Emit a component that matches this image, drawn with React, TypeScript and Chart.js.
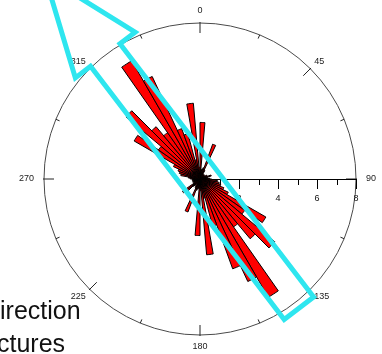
import React, { useEffect, useRef } from "react";
import { Chart, registerables } from "chart.js";

Chart.register(...registerables);

// ---- data -------------------------------------------------------------
const BIN_WIDTH_DEG = 5;
// petal lengths for the 5° bins from 0° to 180° (0–5, 5–10, …, 175–180)
const petalsEastHalf = [
  2.9, 0.5, 0.4, 0.6, 1.9, 0.5, 0.3, 0.2, 0.3, 0.2, 0.3, 0.2,
  0.4, 0.3, 0.6, 0.4, 0.3, 0.5, 0.6, 0.9, 1.0, 1.1, 1.3, 1.6,
  3.9, 2.8, 5.0, 4.0, 3.0, 7.0, 5.8, 4.9, 2.5, 1.0, 3.9, 0.6,
];
// petal lengths for the 5° bins from 180° to 360°
const petalsWestHalf = [
  2.9, 0.5, 0.4, 0.6, 1.8, 0.5, 0.3, 0.4, 0.5, 1.0, 1.1, 0.4,
  0.3, 0.4, 0.3, 0.4, 0.3, 0.4, 0.5, 0.6, 1.0, 1.1, 1.2, 1.5,
  3.9, 2.6, 4.95, 3.5, 2.9, 7.0, 5.8, 2.75, 2.4, 1.0, 3.9, 0.6,
];
const radialMax = 8;
const radialMinorTicks = [1, 2, 3, 4, 5, 6, 7, 8];
const radialTickLabels = [2, 4, 6, 8];
const compassLabels = ["0", "45", "90", "135", "180", "225", "270", "315"];
const compassTickStepDeg = 22.5;
const captionLines = ["irection", "ctures"];

// annotation arrow (in radial units, along the mean direction)
const arrowAxisDeg = 322.6;
const arrowTip = 13.1;
const arrowHeadBase = 8.0;
const arrowHeadHalfWidth = 1.93;
const arrowShaftHalfWidth = 0.95;
const arrowTail = 8.35;

const binLabels = [...petalsEastHalf, ...petalsWestHalf].map(
  (_, i) => `${i * BIN_WIDTH_DEG}–${(i + 1) * BIN_WIDTH_DEG}°`
);

const FONT = '"Liberation Sans", Arial, Helvetica, sans-serif';

const dir = (deg: number) => {
  const a = (deg * Math.PI) / 180;
  return { x: Math.sin(a), y: -Math.cos(a) };
};

const roseDecor = {
  id: "roseDecor",
  beforeDatasetsDraw(chart: any) {
    const s = chart.scales.r;
    const ctx = chart.ctx as CanvasRenderingContext2D;
    const cx = s.xCenter;
    const cy = s.yCenter;
    const R = s.getDistanceFromCenterForValue(radialMax);
    ctx.save();
    // outer circle
    ctx.strokeStyle = "#4a4a4a";
    ctx.lineWidth = 1;
    ctx.beginPath();
    ctx.arc(cx, cy, R, 0, Math.PI * 2);
    ctx.stroke();
    // compass ticks
    ctx.strokeStyle = "#222";
    const nTicks = Math.round(360 / compassTickStepDeg);
    for (let k = 0; k < nTicks; k++) {
      const deg = k * compassTickStepDeg;
      const major = k % 2 === 0;
      const d = dir(deg);
      const outer = major ? R + 1 : R;
      const inner = major ? R - 10 : R - 4;
      ctx.beginPath();
      ctx.moveTo(cx + d.x * outer, cy + d.y * outer);
      ctx.lineTo(cx + d.x * inner, cy + d.y * inner);
      ctx.stroke();
    }
    // compass labels
    ctx.fillStyle = "#222";
    ctx.font = `9px ${FONT}`;
    ctx.textAlign = "center";
    ctx.textBaseline = "middle";
    compassLabels.forEach((lab, i) => {
      const deg = i * 45;
      const d = dir(deg);
      const w = ctx.measureText(lab).width;
      const px = cx + d.x * R;
      const py = cy + d.y * R;
      const diagonal = i % 2 === 1;
      const sx = Math.abs(d.x) < 1e-6 ? 0 : Math.sign(d.x);
      const sy = Math.abs(d.y) < 1e-6 ? 0 : Math.sign(d.y);
      const gx = diagonal ? 4 : 10;
      const gy = diagonal ? 7 : 12;
      ctx.fillText(lab, px + sx * (gx + w / 2), py + sy * gy);
    });
    // radial (horizontal) axis
    ctx.strokeStyle = "#000";
    ctx.beginPath();
    ctx.moveTo(cx, cy + 0.5);
    ctx.lineTo(cx + R, cy + 0.5);
    ctx.stroke();
    radialMinorTicks.forEach((v) => {
      const x = Math.round(cx + s.getDistanceFromCenterForValue(v)) + 0.5;
      const len = v % 2 === 0 ? 10 : 6;
      ctx.beginPath();
      ctx.moveTo(x, cy);
      ctx.lineTo(x, cy + len);
      ctx.stroke();
    });
    ctx.fillStyle = "#111";
    ctx.textBaseline = "middle";
    radialTickLabels.forEach((v) => {
      const x = cx + s.getDistanceFromCenterForValue(v);
      ctx.fillText(String(v), x, cy + 20);
    });
    ctx.restore();
  },
  afterDatasetsDraw(chart: any) {
    const s = chart.scales.r;
    const ctx = chart.ctx as CanvasRenderingContext2D;
    const cx = s.xCenter;
    const cy = s.yCenter;
    const u = dir(arrowAxisDeg);
    const v = { x: -u.y, y: u.x };
    const px = (val: number) => s.getDistanceFromCenterForValue(val);
    const P = (a: number, b: number) => ({
      x: cx + u.x * Math.sign(a) * px(Math.abs(a)) + v.x * Math.sign(b) * px(Math.abs(b)),
      y: cy + u.y * Math.sign(a) * px(Math.abs(a)) + v.y * Math.sign(b) * px(Math.abs(b)),
    });
    const poly = [
      P(arrowTip, 0),
      P(arrowHeadBase, arrowHeadHalfWidth),
      P(arrowHeadBase, arrowShaftHalfWidth),
      P(-arrowTail, arrowShaftHalfWidth),
      P(-arrowTail, -arrowShaftHalfWidth),
      P(arrowHeadBase, -arrowShaftHalfWidth),
      P(arrowHeadBase, -arrowHeadHalfWidth),
    ];
    ctx.save();
    ctx.strokeStyle = "#2ee6ef";
    ctx.lineWidth = 5;
    ctx.lineJoin = "miter";
    ctx.beginPath();
    poly.forEach((p, i) => (i ? ctx.lineTo(p.x, p.y) : ctx.moveTo(p.x, p.y)));
    ctx.closePath();
    ctx.stroke();
    // caption (cut-off text on the left)
    ctx.fillStyle = "#111";
    ctx.font = `25px ${FONT}`;
    ctx.textAlign = "left";
    ctx.textBaseline = "alphabetic";
    ctx.fillText(captionLines[0], 0, 319);
    ctx.fillText(captionLines[1], -3, 352);
    ctx.restore();
  },
};

export default function App() {
  const ref = useRef<HTMLCanvasElement>(null);
  useEffect(() => {
    if (!ref.current) return;
    const chart = new Chart(ref.current, {
      type: "polarArea",
      data: {
        labels: binLabels,
        datasets: [
          {
            data: [...petalsEastHalf, ...petalsWestHalf],
            backgroundColor: "#ff0000",
            borderColor: "#000000",
            borderWidth: 1,
          },
        ],
      },
      options: {
        responsive: false,
        animation: false,
        devicePixelRatio: 1,
        layout: { padding: { left: 44, right: 26, top: 23, bottom: 19 } },
        plugins: { legend: { display: false }, tooltip: { enabled: false } },
        scales: {
          r: {
            min: 0,
            max: radialMax,
            startAngle: 0,
            ticks: { display: false },
            grid: { display: false },
            angleLines: { display: false },
            pointLabels: { display: false },
          },
        },
      },
      plugins: [roseDecor],
    } as any);
    return () => chart.destroy();
  }, []);
  return (
    <div style={{ position: "absolute", left: 0, top: 0, width: 382, height: 354, background: "#fff" }}>
      <canvas ref={ref} width={382} height={354} style={{ display: "block" }} />
    </div>
  );
}
